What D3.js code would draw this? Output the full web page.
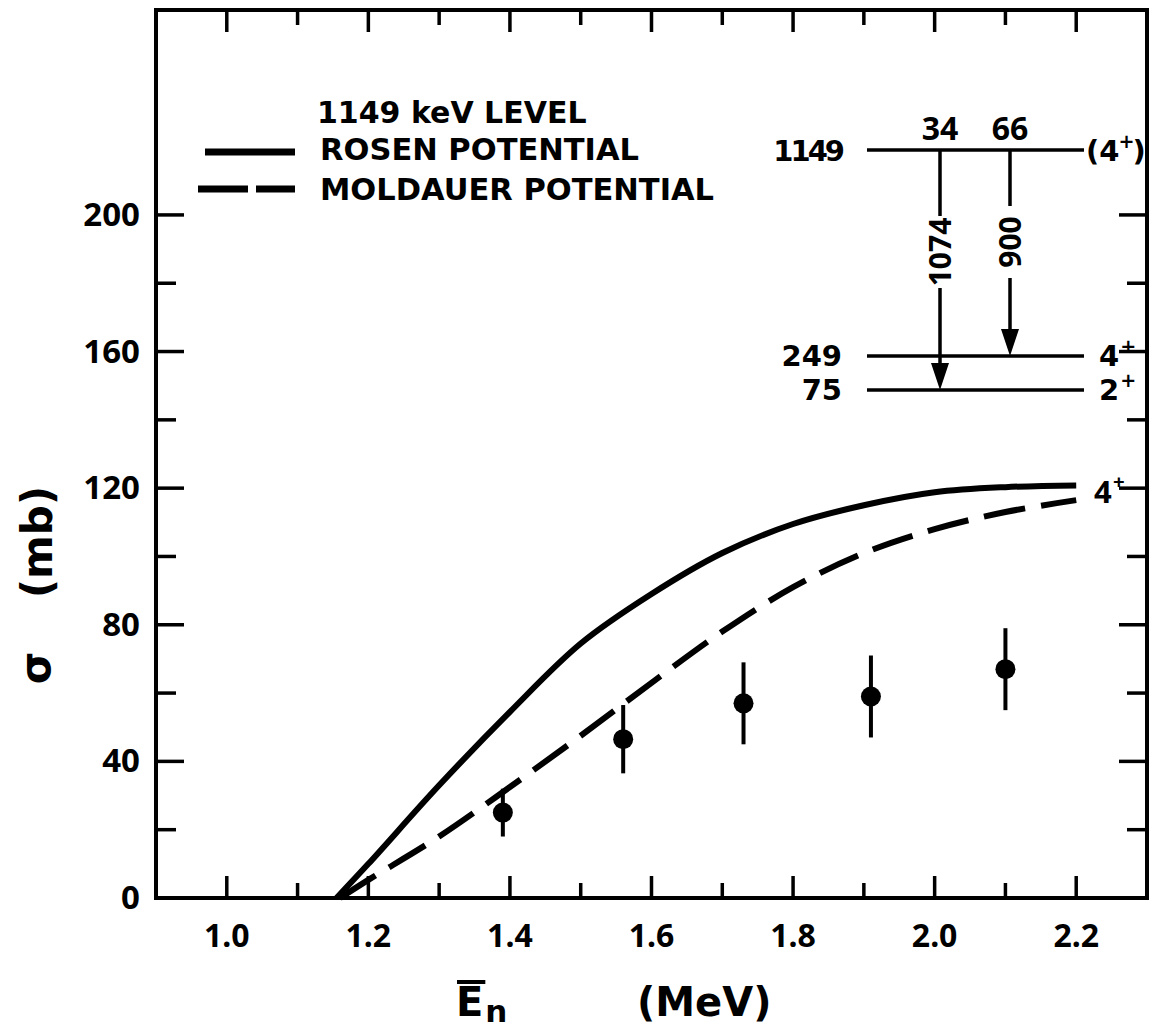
<!DOCTYPE html>
<html>
<head>
<meta charset="utf-8">
<script src="https://cdn.jsdelivr.net/npm/d3@7"></script>
<style>
  body { margin: 0; background: #fff; }
  svg { display: block; }
  text { font-family: "DejaVu Sans", sans-serif; font-weight: bold; fill: #000; }
  text.num { font-family: "Noto Sans", "DejaVu Sans", sans-serif; font-weight: bold; }
</style>
</head>
<body>
<svg id="chart" width="1159" height="1031"></svg>
<script>
// Inelastic cross section for the 1149 keV level: Hauser-Feshbach curves and measurements
const rosenE     = [1.155, 1.2, 1.3, 1.4, 1.5, 1.6, 1.7, 1.8, 1.9, 2.0, 2.1, 2.2];
const rosenSigma = [0, 10, 33, 54.5, 74.5, 89, 101, 109.5, 115, 118.8, 120.3, 120.8];

const moldE      = [1.16, 1.2, 1.3, 1.4, 1.5, 1.6, 1.7, 1.8, 1.9, 2.0, 2.1, 2.2];
const moldSigma  = [0, 5.3, 18, 32.5, 47.5, 63, 78, 91, 101, 108, 113, 116.5];

const measE      = [1.39, 1.56, 1.73, 1.91, 2.10];
const measSigma  = [25, 46.5, 57, 59, 67];
const measErr    = [7, 10, 12, 12, 12];

const xMajorTicks = [1.0, 1.2, 1.4, 1.6, 1.8, 2.0, 2.2];
const xMinorTicks = [1.1, 1.3, 1.5, 1.7, 1.9, 2.1];
const yMajorTicks = [0, 40, 80, 120, 160, 200];
const yMinorTicks = [20, 60, 100, 140, 180];

const legendTitle = "1149 keV LEVEL";
const seriesNames = ["ROSEN POTENTIAL", "MOLDAUER POTENTIAL"];

// level scheme (keV) and gamma transitions with branching ratios (%)
const levelEnergies = [1149, 249, 75];
const levelSpins    = ["(4+)", "4+", "2+"];
const gammaLabels   = ["1074", "900"];
const gammaFrom     = [1149, 1149];
const gammaTo       = [75, 249];
const gammaBranch   = ["34", "66"];

const svg = d3.select("#chart");
const plot = { left: 156, right: 1147, top: 10, bottom: 898 };

const x = d3.scaleLinear().domain([0.9, 2.3]).range([plot.left, plot.right]);
const y = d3.scaleLinear().domain([0, 260]).range([plot.bottom, plot.top]);

// frame
svg.append("rect")
  .attr("x", plot.left).attr("y", plot.top)
  .attr("width", plot.right - plot.left).attr("height", plot.bottom - plot.top)
  .attr("fill", "none").attr("stroke", "#000").attr("stroke-width", 4);

// inward ticks on all four sides
const tickG = svg.append("g").attr("stroke", "#000").attr("stroke-width", 3.5);
function xTicks(vals, len) {
  vals.forEach(v => {
    tickG.append("line").attr("x1", x(v)).attr("x2", x(v))
      .attr("y1", plot.bottom).attr("y2", plot.bottom - len);
    tickG.append("line").attr("x1", x(v)).attr("x2", x(v))
      .attr("y1", plot.top).attr("y2", plot.top + len);
  });
}
function yTicks(vals, len) {
  vals.forEach(v => {
    tickG.append("line").attr("y1", y(v)).attr("y2", y(v))
      .attr("x1", plot.left).attr("x2", plot.left + len);
    tickG.append("line").attr("y1", y(v)).attr("y2", y(v))
      .attr("x1", plot.right).attr("x2", plot.right - len);
  });
}
xTicks(xMajorTicks, 22);
xTicks(xMinorTicks, 15);
yTicks(yMajorTicks, 28);
yTicks(yMinorTicks, 20);

// tick labels
svg.append("g").selectAll("text").data(xMajorTicks).join("text")
  .attr("class", "num")
  .attr("x", d => x(d)).attr("y", 947)
  .attr("text-anchor", "middle").attr("font-size", 32)
  .text(d => d3.format(".1f")(d));
svg.append("g").selectAll("text").data(yMajorTicks).join("text")
  .attr("class", "num")
  .attr("x", 140).attr("y", d => y(d) + 11)
  .attr("text-anchor", "end").attr("font-size", 33)
  .text(d => d);

// axis titles
const eText = svg.append("text").attr("x", 456).attr("y", 1016)
  .attr("font-size", 40).text("E");
const eBox = eText.node().getBBox();
svg.append("line")
  .attr("x1", eBox.x + 1).attr("x2", eBox.x + eBox.width + 2)
  .attr("y1", 982).attr("y2", 982)
  .attr("stroke", "#000").attr("stroke-width", 4);
svg.append("text").attr("x", eBox.x + eBox.width + 2).attr("y", 1022)
  .attr("font-size", 31).text("n");
svg.append("text").attr("x", 637).attr("y", 1016)
  .attr("font-size", 40).text("(MeV)");

svg.append("text").attr("transform", "translate(50,668) rotate(-90)")
  .attr("text-anchor", "middle").attr("font-size", 42).text("σ");
svg.append("text").attr("transform", "translate(52,542) rotate(-90)")
  .attr("text-anchor", "middle").attr("font-size", 42).text("(mb)");

// theory curves
const line = d3.line().x(d => x(d[0])).y(d => y(d[1])).curve(d3.curveCatmullRom.alpha(0.5));
svg.append("path").datum(d3.zip(rosenE, rosenSigma))
  .attr("d", line).attr("fill", "none").attr("stroke", "#000")
  .attr("stroke-width", 6);
svg.append("path").datum(d3.zip(moldE, moldSigma))
  .attr("d", line).attr("fill", "none").attr("stroke", "#000")
  .attr("stroke-width", 6).attr("stroke-dasharray", "42,16");

// spin label with a raised "+"
function spinLabel(g, px, py, spin, size, cls) {
  const m = spin.match(/^(\(?)(\d)\+(\)?)$/);
  const rise = size * 0.45;
  if (m[1]) {
    // bracketed spin: one text run with a superscript tspan
    const t = g.append("text").attr("class", cls)
      .attr("x", px).attr("y", py).attr("font-size", size);
    t.append("tspan").text(m[1] + m[2]);
    t.append("tspan").attr("dx", -1).attr("dy", -rise).attr("font-size", size * 0.66).text("+");
    t.append("tspan").attr("dx", -2).attr("dy", rise).text(m[3]);
    return;
  }
  // plain spin: digit and "+" as separate texts so stacked rows stay apart
  const base = g.append("text").attr("class", cls)
    .attr("x", px).attr("y", py).attr("font-size", size).text(m[2]);
  const b = base.node().getBBox();
  g.append("text").attr("class", cls)
    .attr("x", b.x + b.width + 1).attr("y", py - rise)
    .attr("font-size", size * 0.66).text("+");
}

// end-of-curve spin label
spinLabel(svg, 1094, y(rosenSigma[rosenSigma.length - 1]) + 18, "4+", 31, "num");

// measured points with error bars
const meas = d3.zip(measE, measSigma, measErr);
svg.append("g").selectAll("line").data(meas).join("line")
  .attr("x1", d => x(d[0])).attr("x2", d => x(d[0]))
  .attr("y1", d => y(d[1] - d[2])).attr("y2", d => y(d[1] + d[2]))
  .attr("stroke", "#000").attr("stroke-width", 4);
svg.append("g").selectAll("circle").data(meas).join("circle")
  .attr("cx", d => x(d[0])).attr("cy", d => y(d[1])).attr("r", 10)
  .attr("fill", "#000");

// legend
svg.append("text").attr("x", 317).attr("y", 123).attr("font-size", 30).text(legendTitle);
svg.append("text").attr("x", 320).attr("y", 160).attr("font-size", 30.5).text(seriesNames[0]);
svg.append("text").attr("x", 320).attr("y", 200).attr("font-size", 30.5).text(seriesNames[1]);
svg.append("line").attr("x1", 205).attr("x2", 295).attr("y1", 152).attr("y2", 152)
  .attr("stroke", "#000").attr("stroke-width", 7);
svg.append("line").attr("x1", 198).attr("x2", 295).attr("y1", 189).attr("y2", 189)
  .attr("stroke", "#000").attr("stroke-width", 7).attr("stroke-dasharray", "50,8");

// level scheme inset
const ly = d3.scaleLinear().domain([75, 249, 1149]).range([390, 356, 150]);
const gx = d3.scalePoint().domain(gammaLabels).range([940, 1010]);
const inset = svg.append("g");
const lvX1 = 867, lvX2 = 1084;
const lvBase = [161, 366, 400];

levelEnergies.forEach((e, i) => {
  inset.append("line").attr("x1", lvX1).attr("x2", lvX2)
    .attr("y1", ly(e)).attr("y2", ly(e))
    .attr("stroke", "#000").attr("stroke-width", 3.5);
  inset.append("text").attr("x", 842).attr("y", lvBase[i])
    .attr("text-anchor", "end").attr("font-size", 29)
    .attr("letter-spacing", String(e).includes("1") ? -3 : 0)
    .text(e);
  spinLabel(inset, i === 0 ? 1086 : 1099, lvBase[i], levelSpins[i], 29, null);
});

gammaLabels.forEach((g, i) => {
  const gxp = gx(g);
  const y0 = ly(gammaFrom[i]), y1 = ly(gammaTo[i]);
  const mid = (y0 + y1) / 2 - (i === 0 ? 18 : 11);
  const halfGap = 36;
  const head = 27;
  inset.append("line").attr("x1", gxp).attr("x2", gxp)
    .attr("y1", y0).attr("y2", mid - halfGap)
    .attr("stroke", "#000").attr("stroke-width", 3.5);
  inset.append("line").attr("x1", gxp).attr("x2", gxp)
    .attr("y1", mid + halfGap).attr("y2", y1 - head + 2)
    .attr("stroke", "#000").attr("stroke-width", 3.5);
  inset.append("path")
    .attr("d", `M${gxp - 9},${y1 - head} L${gxp + 9},${y1 - head} L${gxp},${y1} Z`)
    .attr("fill", "#000");
  inset.append("text").attr("class", "num")
    .attr("transform", `translate(${gxp + 11},${mid}) rotate(-90)`)
    .attr("text-anchor", "middle").attr("font-size", 30).text(g);
  inset.append("text").attr("class", "num").attr("x", gxp).attr("y", y0 - 10)
    .attr("text-anchor", "middle").attr("font-size", 32).text(gammaBranch[i]);
});
</script>
</body>
</html>
